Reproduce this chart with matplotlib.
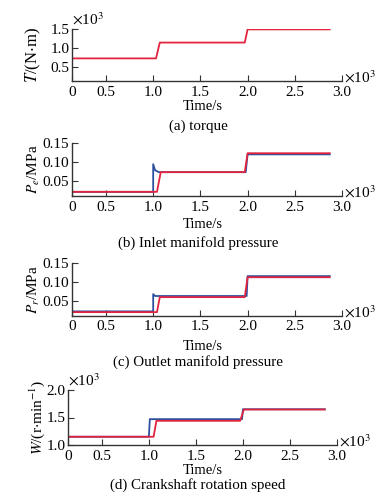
import matplotlib
matplotlib.use("Agg")
import matplotlib.pyplot as plt

plt.rcParams['font.family'] = ['Liberation Serif', 'DejaVu Serif']
plt.rcParams['mathtext.fontset'] = 'stix'

# ---- data (time in 10^3 s) ----
xtick_vals = [0.5, 1.0, 1.5, 2.0, 2.5, 3.0]
xtick_labels = ["0.5", "1.0", "1.5", "2.0", "2.5", "3.0"]
t_start = 0.14
t_end = 2.87

# (a) torque, x10^3 N*m
torque_t = [t_start, 1.03, 1.07, 1.97, 2.00, t_end]
torque_v = [0.72, 0.72, 1.14, 1.14, 1.49, 1.49]

# (b) inlet manifold pressure, MPa
inlet_blue_t = [t_start, 1.0, 1.0, 1.02, 1.06, 1.98, 2.0, t_end]
inlet_blue_v = [0.021, 0.021, 0.094, 0.078, 0.073, 0.073, 0.120, 0.120]
inlet_red_t = [t_start, 1.04, 1.08, 1.97, 2.00, t_end]
inlet_red_v = [0.021, 0.021, 0.073, 0.073, 0.123, 0.123]

# (c) outlet manifold pressure, MPa
outlet_blue_t = [t_start, 1.0, 1.0, 1.02, 1.99, 2.0, t_end]
outlet_blue_v = [0.021, 0.021, 0.067, 0.062, 0.062, 0.115, 0.115]
outlet_red_t = [t_start, 1.04, 1.07, 1.97, 2.00, t_end]
outlet_red_v = [0.019, 0.019, 0.059, 0.059, 0.112, 0.112]

# (d) crankshaft rotation speed, x10^3 r/min
speed_blue_t = [t_start, 1.0, 1.01, 1.99, 2.0, t_end]
speed_blue_v = [1.15, 1.15, 1.47, 1.47, 1.65, 1.65]
speed_red_t = [t_start, 1.05, 1.08, 1.97, 2.01, t_end]
speed_red_v = [1.15, 1.15, 1.44, 1.44, 1.645, 1.645]

BLUE = "#2d4f9e"
RED = "#e3243f"
W, H = 383, 497
fig = plt.figure(figsize=(W / 100, H / 100), dpi=100)

FS = 11


def make_axes(left, right, top, bottom, ylim, yticks, ylabels_, ylab, ylab_x,
              xlab_y, cap_y, caption, top_exp, ylab_fs=FS):
    ax = fig.add_axes([left / W, 1 - bottom / H, (right - left) / W, (bottom - top) / H])
    ax.set_xlim(t_start, 3.0)
    ax.set_ylim(*ylim)
    for s in ("top", "right"):
        ax.spines[s].set_visible(False)
    for s in ("left", "bottom"):
        ax.spines[s].set_color("#333333")
        ax.spines[s].set_linewidth(1.0)
    ax.set_xticks([t_start] + xtick_vals)
    ax.set_xticklabels(["0"] + xtick_labels, fontsize=FS)
    ax.set_yticks(yticks)
    ax.set_yticklabels(ylabels_, fontsize=FS)
    ax.tick_params(direction="in", length=4, width=0.8, color="#333333")
    ax.tick_params(axis="x", pad=3.5)
    ax.tick_params(axis="y", pad=2)
    fig.text(ylab_x / W, 1 - (top + bottom) / 2 / H, ylab, rotation=90,
             ha="center", va="center", fontsize=ylab_fs)
    fig.text(203 / W, 1 - xlab_y / H, "Time/s", ha="center", va="center", fontsize=10.5)
    fig.text(198 / W, 1 - cap_y / H, caption, ha="center", va="center", fontsize=10.8)
    ax.text(1.008, 0.06, r"$\times$10$^3$", transform=ax.transAxes, ha="left",
            va="center", fontsize=FS)
    if top_exp:
        ax.text(0.0, 1.03, r"$\times$10$^3$", transform=ax.transAxes, ha="left",
                va="bottom", fontsize=FS)
    return ax


ax1 = make_axes(72, 342, 29, 81, (0.12, 1.5), [0.5, 1.0, 1.5], ["0.5", "1.0", "1.5"],
                r"$T$/(N$\cdot$m)", 33, 107, 126, "(a) torque", True, ylab_fs=12)
ax1.plot(torque_t, torque_v, color=RED, lw=1.3)

ax2 = make_axes(72, 342, 143, 196, (0.01, 0.15), [0.05, 0.10, 0.15],
                ["0.05", "0.10", "0.15"], r"$P_e$/MPa", 34, 225, 242.7,
                "(b) Inlet manifold pressure", False)
ax2.plot(inlet_blue_t, inlet_blue_v, color=BLUE, lw=1.3)
ax2.plot(inlet_red_t, inlet_red_v, color=RED, lw=1.3)

ax3 = make_axes(72, 342, 263, 315.5, (0.01, 0.15), [0.05, 0.10, 0.15],
                ["0.05", "0.10", "0.15"], r"$P_r$/MPa", 34, 346.7, 361.7,
                "(c) Outlet manifold pressure", False)
ax3.plot(outlet_blue_t, outlet_blue_v, color=BLUE, lw=1.3)
ax3.plot(outlet_red_t, outlet_red_v, color=RED, lw=1.3)

ax4 = make_axes(68, 337, 390, 445, (1.0, 2.0), [1.0, 1.5, 2.0], ["1.0", "1.5", "2.0"],
                r"$W$/(r$\cdot$min$^{-1}$)", 37, 470, 485,
                "(d) Crankshaft rotation speed", True)
ax4.plot(speed_blue_t, speed_blue_v, color=BLUE, lw=1.3)
ax4.plot(speed_red_t, speed_red_v, color=RED, lw=1.3)

fig.savefig("out.png", dpi=100)
